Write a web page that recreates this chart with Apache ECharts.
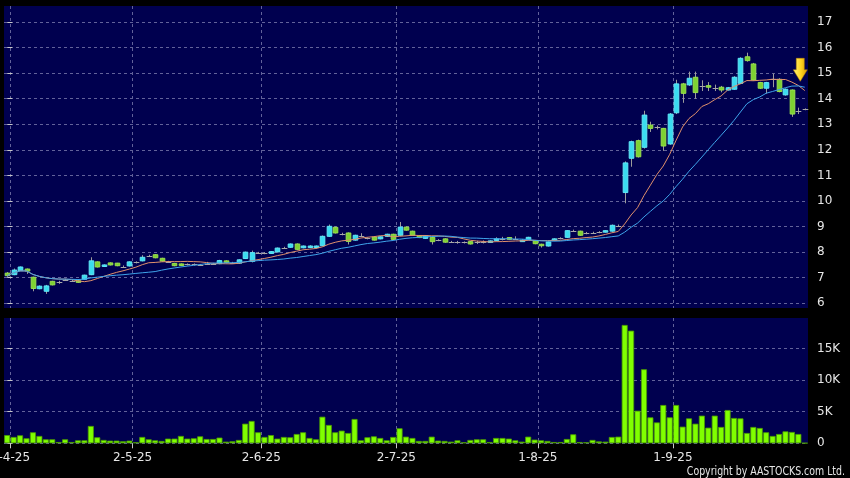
<!DOCTYPE html>
<html><head><meta charset="utf-8">
<script src="https://cdn.jsdelivr.net/npm/echarts@6/dist/echarts.min.js"></script>
<style>html,body{margin:0;padding:0;background:#000;}#c{width:850px;height:478px;}</style>
</head><body><div id="c"></div>
<script>
const dates = [
'1-4-25','2-4-25','3-4-25','7-4-25','8-4-25','9-4-25','10-4-25','11-4-25','14-4-25','15-4-25','16-4-25','17-4-25','22-4-25','23-4-25','24-4-25','25-4-25','28-4-25','29-4-25','30-4-25',
'2-5-25','6-5-25','7-5-25','8-5-25','9-5-25','12-5-25','13-5-25','14-5-25','15-5-25','16-5-25','19-5-25','20-5-25','21-5-25','22-5-25','23-5-25','26-5-25','27-5-25','28-5-25','29-5-25','30-5-25',
'2-6-25','3-6-25','4-6-25','5-6-25','6-6-25','9-6-25','10-6-25','11-6-25','12-6-25','13-6-25','16-6-25','17-6-25','18-6-25','19-6-25','20-6-25','23-6-25','24-6-25','25-6-25','26-6-25','27-6-25','30-6-25',
'2-7-25','3-7-25','4-7-25','7-7-25','8-7-25','9-7-25','10-7-25','11-7-25','14-7-25','15-7-25','16-7-25','17-7-25','18-7-25','21-7-25','22-7-25','23-7-25','24-7-25','25-7-25','28-7-25','29-7-25','30-7-25','31-7-25',
'1-8-25','4-8-25','5-8-25','6-8-25','7-8-25','8-8-25','11-8-25','12-8-25','13-8-25','14-8-25','15-8-25','18-8-25','19-8-25','20-8-25','21-8-25','22-8-25','25-8-25','26-8-25','27-8-25','28-8-25','29-8-25',
'1-9-25','2-9-25','3-9-25','4-9-25','5-9-25','8-9-25','9-9-25','10-9-25','11-9-25','12-9-25','15-9-25','16-9-25','17-9-25','18-9-25','19-9-25','22-9-25','23-9-25','24-9-25','25-9-25','26-9-25','29-9-25','30-9-25'
];
const open = [
7.18,7.12,7.28,7.34,7.02,6.57,6.47,6.86,6.82,6.92,
6.88,6.88,6.94,7.12,7.62,7.44,7.58,7.57,7.43,7.46,
7.60,7.66,7.86,7.90,7.76,7.62,7.56,7.54,7.52,7.52,
7.50,7.53,7.55,7.55,7.66,7.58,7.57,7.75,7.64,7.97,
7.96,7.95,8.01,8.17,8.19,8.32,8.17,8.18,8.22,8.25,
8.62,8.97,8.71,8.75,8.47,8.64,8.54,8.59,8.52,8.62,
8.70,8.66,8.98,8.82,8.64,8.54,8.58,8.47,8.52,8.40,
8.40,8.38,8.41,8.38,8.40,8.39,8.46,8.50,8.57,8.52,
8.44,8.49,8.45,8.31,8.24,8.46,8.54,8.58,8.84,8.82,
8.75,8.76,8.78,8.79,8.82,9.04,10.33,11.67,12.36,12.10,
12.97,12.88,12.84,12.23,13.45,14.58,14.54,14.84,14.50,14.51,
14.43,14.45,14.34,14.37,14.60,15.64,15.36,14.63,14.41,14.76,
14.76,14.15,14.34,13.52,13.59
];
const close = [
7.08,7.30,7.42,7.26,6.58,6.67,6.68,6.72,6.82,6.92,
6.88,6.82,7.10,7.66,7.42,7.50,7.50,7.47,7.43,7.62,
7.60,7.80,7.86,7.78,7.65,7.62,7.47,7.48,7.52,7.52,
7.50,7.53,7.55,7.67,7.60,7.58,7.70,8.00,7.98,7.97,
7.96,8.02,8.16,8.17,8.32,8.11,8.24,8.24,8.24,8.62,
9.01,8.75,8.71,8.42,8.66,8.64,8.54,8.47,8.60,8.70,
8.50,8.98,8.86,8.66,8.57,8.64,8.41,8.47,8.39,8.40,
8.40,8.38,8.32,8.38,8.40,8.44,8.52,8.50,8.50,8.52,
8.47,8.58,8.33,8.25,8.40,8.52,8.54,8.84,8.84,8.66,
8.75,8.76,8.78,8.84,9.05,9.04,11.49,12.32,11.73,13.36,
12.84,12.88,12.15,13.40,14.58,14.21,14.80,14.24,14.50,14.45,
14.43,14.34,14.43,14.84,15.58,15.49,14.73,14.41,14.63,14.76,
14.28,14.37,13.40,13.52,13.59
];
const low = [
7.04,7.10,7.26,7.15,6.47,6.55,6.37,6.70,6.76,6.88,
6.84,6.80,6.92,7.10,7.40,7.42,7.48,7.45,7.40,7.44,
7.56,7.64,7.82,7.76,7.63,7.58,7.45,7.46,7.48,7.48,
7.46,7.50,7.52,7.53,7.57,7.55,7.55,7.73,7.60,7.93,
7.92,7.93,7.99,8.13,8.17,8.09,8.15,8.16,8.15,8.23,
8.60,8.73,8.66,8.30,8.45,8.60,8.50,8.45,8.50,8.60,
8.48,8.64,8.84,8.64,8.55,8.52,8.30,8.43,8.37,8.36,
8.33,8.34,8.30,8.32,8.34,8.37,8.44,8.46,8.48,8.48,
8.42,8.47,8.31,8.18,8.22,8.44,8.50,8.56,8.80,8.64,
8.70,8.72,8.74,8.77,8.80,9.00,9.91,11.34,11.70,12.05,
12.70,12.80,11.96,12.20,13.40,13.84,14.50,14.00,14.30,14.30,
14.30,14.25,14.32,14.35,14.58,15.45,14.70,14.38,14.20,14.45,
14.25,14.12,13.29,13.40,13.55
];
const high = [
7.22,7.36,7.44,7.36,7.04,6.70,6.72,6.88,6.88,6.96,
6.92,6.90,7.12,7.80,7.64,7.52,7.60,7.58,7.48,7.64,
7.64,7.88,7.90,7.92,7.78,7.66,7.58,7.56,7.56,7.56,
7.54,7.62,7.58,7.70,7.68,7.62,7.72,8.02,8.06,8.01,
8.00,8.04,8.18,8.21,8.34,8.34,8.26,8.27,8.26,8.65,
9.08,9.00,8.76,8.77,8.68,8.74,8.58,8.61,8.62,8.72,
8.72,9.18,9.00,8.84,8.66,8.66,8.60,8.51,8.54,8.44,
8.44,8.42,8.43,8.44,8.46,8.46,8.58,8.60,8.59,8.62,
8.50,8.60,8.47,8.33,8.42,8.54,8.58,8.86,8.88,8.84,
8.79,8.80,8.82,8.86,9.08,9.08,11.55,12.36,12.40,13.53,
13.10,12.95,12.86,13.44,14.74,14.62,15.06,15.06,14.72,14.65,
14.55,14.50,14.46,14.88,15.62,15.80,15.40,14.66,14.66,14.98,
14.80,14.40,14.36,13.65,13.62
];
const volume = [
1300,1000,1260,790,1740,1160,630,630,200,630,
200,470,470,2740,950,530,420,420,320,420,
160,1000,630,470,370,740,740,1160,740,790,
1100,680,680,900,260,320,530,3100,3530,1740,
1000,1300,740,1000,950,1470,1740,840,630,4200,
2900,1740,2000,1630,3840,470,950,1100,840,470,
1000,2370,1050,840,370,370,1050,420,370,260,
470,160,530,630,630,200,840,840,740,470,
260,1050,580,470,370,200,200,680,1420,200,
160,530,300,260,1000,1050,18700,17800,5150,11700,
4100,3300,6050,4100,6050,2630,3940,3100,4370,2470,
4370,2580,5260,4000,3940,1630,2580,2420,1740,1160,
1470,1890,1790,1470,50
];
const maPeriods = [10, 20];
const volumeTickValues = [0, 5000, 10000, 15000];

const N = dates.length;
const UP = '#3adcf0', UP_B = '#62e8f8';
const DOWN = '#7ed232', DOWN_B = '#9ae04e';
const WICK = '#9c9c9c';
const NAVY = '#00004f';
const GRID_LINE = '#62629a';
const LABEL = '#e6e6e6';

// month boundary ticks: after the first trading day of each month
const monthTickPos = [], monthTickLabel = [];
dates.forEach((d, i) => {
  const m = d.split('-')[1];
  if (i === 0 || m !== dates[i - 1].split('-')[1]) {
    monthTickPos.push(i + 0.5);
    monthTickLabel.push(d);
  }
});
function monthLabel(v) {
  for (let k = 0; k < monthTickPos.length; k++) if (Math.abs(monthTickPos[k] - v) < 1e-6) return monthTickLabel[k];
  return '';
}
function movingAverage(src, n) {
  return src.map((_, i) => {
    const s = Math.max(0, i - n + 1);
    let sum = 0;
    for (let k = s; k <= i; k++) sum += src[k];
    return [i, +(sum / (i - s + 1)).toFixed(4)];
  });
}
const candleData = dates.map((d, i) => [i, open[i], close[i], low[i], high[i]]);
const volData = volume.map((v, i) => [i, v]);

const chart = echarts.init(document.getElementById('c'), null, {renderer: 'canvas'});
const xBase = {type: 'value', min: -0.5, max: N - 0.5};
const dashed = {show: true, lineStyle: {color: GRID_LINE, type: [3, 3], width: 1}};
const FONT = 'DejaVu Sans';
const gridBase = {left: 4, right: 42, outerBoundsMode: 'none', containLabel: false};

chart.setOption({
  animation: false,
  backgroundColor: '#000',
  textStyle: {fontFamily: FONT},
  grid: [
    Object.assign({}, gridBase, {top: 6, height: 302, show: true, backgroundColor: NAVY, borderWidth: 0}),
    Object.assign({}, gridBase, {top: 22, height: 281.3, show: false}),
    Object.assign({}, gridBase, {top: 318, height: 125.3, show: true, backgroundColor: NAVY, borderWidth: 0})
  ],
  xAxis: [
    Object.assign({}, xBase, {gridIndex: 0, axisLine: {show: false}, axisLabel: {show: false},
      axisTick: {show: false, customValues: monthTickPos}, splitLine: dashed}),
    Object.assign({}, xBase, {gridIndex: 1, show: false}),
    Object.assign({}, xBase, {gridIndex: 2, axisLine: {show: false},
      axisTick: {show: true, customValues: monthTickPos, length: 5, lineStyle: {color: '#c8c8c8'}},
      axisLabel: {show: true, customValues: monthTickPos, formatter: monthLabel, color: LABEL, fontSize: 12, margin: 9,
        fontFamily: FONT, alignMinLabel: 'center', alignMaxLabel: 'center', hideOverlap: false},
      splitLine: dashed})
  ],
  yAxis: [
    {gridIndex: 0, type: 'value', min: 0, max: 1, show: false},
    {gridIndex: 1, type: 'value', position: 'right', min: 6, max: 17, interval: 1,
      axisLine: {show: false},
      axisTick: {show: true, length: 5, lineStyle: {color: '#c8c8c8'}},
      axisLabel: {color: LABEL, fontSize: 12, margin: 9, fontFamily: FONT},
      splitLine: dashed},
    {gridIndex: 2, type: 'value', position: 'right', min: 0, max: 19800, interval: 5000,
      axisLine: {show: false},
      axisTick: {show: true, length: 5, lineStyle: {color: '#c8c8c8'}, customValues: volumeTickValues},
      axisLabel: {color: LABEL, fontSize: 12, margin: 9, fontFamily: FONT, customValues: volumeTickValues,
        formatter: v => v === 0 ? '0' : (v / 1000) + 'K'},
      splitLine: dashed}
  ],
  series: [
    {
      type: 'custom', xAxisIndex: 1, yAxisIndex: 1, data: candleData,
      encode: {x: 0, y: [1, 2, 3, 4]},
      renderItem: function (params, api) {
        const i = api.value(0), o = api.value(1), c = api.value(2), l = api.value(3), h = api.value(4);
        const pO = api.coord([i, o]), pC = api.coord([i, c]), pL = api.coord([i, l]), pH = api.coord([i, h]);
        const w = api.size([1, 0])[0] * 0.72;
        const x = Math.round(pO[0]) + 0.5;
        const children = [{type: 'line', shape: {x1: x, y1: pH[1], x2: x, y2: pL[1]}, style: {stroke: WICK, lineWidth: 1}}];
        if (o === c) {
          const y = Math.round(pO[1]) + 0.5;
          children.push({type: 'line', shape: {x1: x - w / 2 - 0.5, y1: y, x2: x + w / 2 + 0.5, y2: y}, style: {stroke: '#a8a8a8', lineWidth: 1}});
        } else {
          const up = c > o;
          const top = Math.min(pO[1], pC[1]);
          const hh = Math.max(Math.abs(pO[1] - pC[1]), 1.5);
          children.push({type: 'rect', shape: {x: x - w / 2, y: top, width: w, height: hh},
            style: {fill: up ? UP : DOWN, stroke: up ? UP_B : DOWN_B, lineWidth: 1}});
        }
        return {type: 'group', children: children};
      },
      z: 2
    },
    {
      type: 'line', xAxisIndex: 1, yAxisIndex: 1, data: movingAverage(close, maPeriods[0]),
      symbol: 'none', lineStyle: {color: '#e0906c', width: 1}, z: 3,
      markPoint: {
        symbol: 'path://M3,0 L11,0 L11,12 L14,12 L7,24 L0,12 L3,12 Z',
        symbolSize: [14, 23], silent: true, label: {show: false},
        itemStyle: {color: new echarts.graphic.LinearGradient(0, 0, 1, 0, [{offset: 0, color: '#fff27a'}, {offset: 0.55, color: '#ffd21e'}, {offset: 1, color: '#d89a00'}]), borderColor: '#c08a00', borderWidth: 0.5},
        data: [{coord: [N - 1.7, 15.13]}]
      }
    },
    {
      type: 'line', xAxisIndex: 1, yAxisIndex: 1, data: movingAverage(close, maPeriods[1]),
      symbol: 'none', lineStyle: {color: '#3fa4ea', width: 1}, z: 3
    },
    {
      type: 'bar', xAxisIndex: 2, yAxisIndex: 2, data: volData, barWidth: 6,
      itemStyle: {color: '#80ff00', borderColor: '#4c9e00', borderWidth: 0.8}
    }
  ],
  graphic: [
    {type: 'text', x: 845, y: 472, scaleX: 0.87, originX: 0, originY: 0,
      style: {text: 'Copyright by AASTOCKS.com Ltd.', fill: '#e6e6e6', align: 'right', verticalAlign: 'middle',
      font: "12px 'DejaVu Sans Condensed', 'Liberation Sans', sans-serif"}}
  ]
});
</script>
</body></html>
